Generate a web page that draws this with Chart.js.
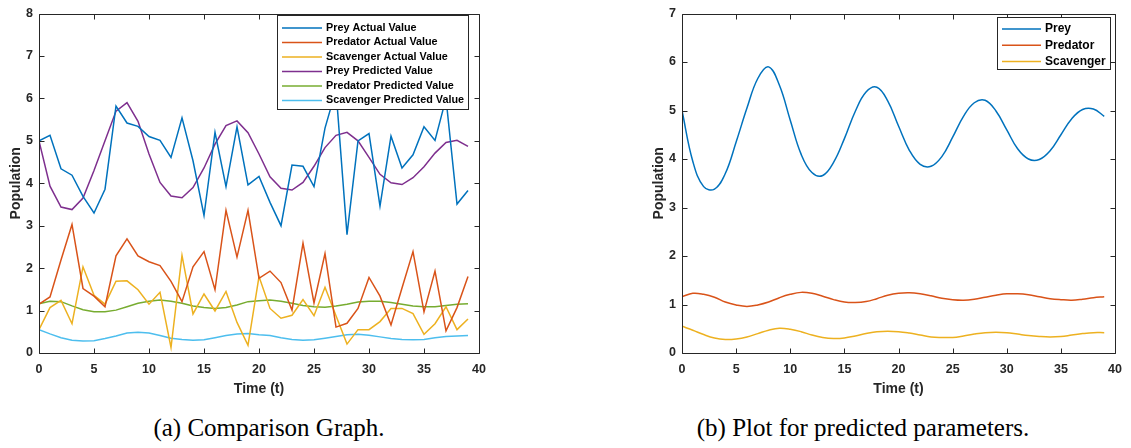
<!DOCTYPE html>
<html>
<head>
<meta charset="utf-8">
<script src="https://cdn.jsdelivr.net/npm/chart.js@4.4.1/dist/chart.umd.min.js"></script>
<style>
  html, body { margin: 0; padding: 0; background: #fff; width: 1131px; height: 448px; overflow: hidden; }
  #c1 { position: absolute; left: 0; top: 0; }
  #c2 { position: absolute; left: 565px; top: 0; }
  .cap { position: absolute; top: 414px; font-family: "Liberation Serif", "DejaVu Serif", serif; font-size: 25px; color: #000; white-space: nowrap; transform: translateX(-50%); }
</style>
</head>
<body>
<canvas id="c1" width="565" height="400"></canvas>
<canvas id="c2" width="566" height="400"></canvas>
<div class="cap" style="left:269px">(a) Comparison Graph.</div>
<div class="cap" style="left:863px">(b) Plot for predicted parameters.</div>
<script>
// ---- data ----
const timeSteps = [0,1,2,3,4,5,6,7,8,9,10,11,12,13,14,15,16,17,18,19,20,21,22,23,24,25,26,27,28,29,30,31,32,33,34,35,36,37,38,39];
const xTicks = [0,5,10,15,20,25,30,35,40];
const yTicksLeft = [0,1,2,3,4,5,6,7,8];
const yTicksRight = [0,1,2,3,4,5,6,7];

// (a) comparison graph
const preyActual = [5.00,5.13,4.34,4.19,3.69,3.30,3.86,5.82,5.42,5.34,5.10,5.01,4.61,5.54,4.53,3.24,5.20,3.92,5.33,3.96,4.16,3.55,3.00,4.43,4.40,3.92,5.30,6.20,2.79,5.00,5.17,3.46,5.11,4.36,4.67,5.33,5.01,6.00,3.51,3.83];
const predatorActual = [1.15,1.32,2.19,3.03,1.52,1.34,1.09,2.29,2.69,2.29,2.15,2.06,1.69,1.21,2.03,2.39,1.49,3.36,2.26,3.36,1.76,1.93,1.66,1.01,2.59,1.18,2.34,0.61,0.70,1.05,1.78,1.34,0.66,1.53,2.39,0.97,1.93,0.52,1.07,1.80];
const scavengerActual = [0.55,1.07,1.24,0.69,2.03,1.36,1.15,1.69,1.70,1.49,1.15,1.43,0.13,2.30,0.92,1.39,0.99,1.45,0.72,0.18,1.80,1.05,0.82,0.89,1.26,0.88,1.55,0.88,0.21,0.55,0.55,0.74,1.05,1.05,0.93,0.44,0.69,1.09,0.55,0.80];
const preyPredicted = [5.00,3.93,3.44,3.38,3.65,4.30,5.00,5.70,5.90,5.46,4.69,4.02,3.70,3.66,3.90,4.36,4.92,5.36,5.47,5.19,4.69,4.15,3.88,3.84,4.02,4.40,4.84,5.13,5.20,5.00,4.61,4.21,4.01,3.97,4.13,4.39,4.71,4.96,5.01,4.87];
const predatorPredicted = [1.16,1.22,1.21,1.11,1.02,0.97,0.97,1.01,1.09,1.17,1.22,1.25,1.22,1.17,1.11,1.07,1.05,1.07,1.13,1.21,1.23,1.25,1.22,1.17,1.12,1.09,1.08,1.11,1.15,1.20,1.22,1.22,1.19,1.15,1.11,1.09,1.09,1.12,1.15,1.16];
const scavengerPredicted = [0.55,0.45,0.36,0.30,0.28,0.29,0.34,0.40,0.47,0.49,0.47,0.41,0.35,0.32,0.30,0.31,0.36,0.41,0.45,0.46,0.43,0.41,0.36,0.32,0.30,0.31,0.35,0.39,0.43,0.44,0.42,0.38,0.34,0.32,0.31,0.32,0.36,0.39,0.40,0.41];

// (b) predicted parameters
const preyCurve = [5.00,3.95,3.43,3.38,3.70,4.35,5.05,5.66,5.90,5.52,4.80,4.10,3.72,3.66,3.93,4.42,4.98,5.38,5.48,5.20,4.68,4.18,3.89,3.85,4.05,4.45,4.88,5.16,5.21,4.99,4.60,4.21,4.00,3.99,4.17,4.50,4.83,5.02,5.03,4.88];
const predatorCurve = [1.16,1.23,1.21,1.15,1.05,0.99,0.96,0.99,1.05,1.14,1.21,1.25,1.23,1.17,1.10,1.05,1.04,1.06,1.12,1.19,1.23,1.24,1.22,1.18,1.13,1.10,1.09,1.11,1.15,1.19,1.22,1.22,1.20,1.16,1.12,1.10,1.09,1.11,1.14,1.16];
const scavengerCurve = [0.55,0.47,0.38,0.31,0.28,0.29,0.33,0.40,0.47,0.51,0.49,0.44,0.37,0.32,0.30,0.31,0.35,0.40,0.44,0.45,0.44,0.41,0.37,0.33,0.32,0.32,0.35,0.39,0.42,0.43,0.42,0.39,0.36,0.34,0.33,0.34,0.37,0.40,0.42,0.42];

const C = { blue:'#0072BD', orange:'#D95319', yellow:'#EDB120', purple:'#7E2F8E', green:'#77AC30', cyan:'#4DBEEE' };
const INK = '#262626';
const FONT = '"Liberation Sans", Arial, Helvetica, sans-serif';

function pts(arr) { return timeSteps.map((t, i) => ({ x: t, y: arr[i] })); }
function ds(label, arr, color, tension) {
  return { label, data: pts(arr), borderColor: color, backgroundColor: color, borderWidth: 1.5, pointRadius: 0, tension: tension, fill: false };
}

// frame with inward ticks (MATLAB-style box)
const framePlugin = {
  id: 'frame',
  afterDatasetsDraw(chart) {
    const { ctx, chartArea: a, scales } = chart;
    ctx.save();
    ctx.strokeStyle = INK; ctx.lineWidth = 1;
    const L = Math.round(a.left) + 0.5, R = Math.round(a.right) + 0.5, T = Math.round(a.top) + 0.5, B = Math.round(a.bottom) + 0.5;
    ctx.beginPath(); ctx.rect(L, T, R - L, B - T); ctx.stroke();
    const tl = 5;
    ctx.beginPath();
    scales.x.ticks.forEach(tk => {
      const px = Math.round(scales.x.getPixelForValue(tk.value)) + 0.5;
      ctx.moveTo(px, B); ctx.lineTo(px, B - tl);
      ctx.moveTo(px, T); ctx.lineTo(px, T + tl);
    });
    scales.y.ticks.forEach(tk => {
      const py = Math.round(scales.y.getPixelForValue(tk.value)) + 0.5;
      ctx.moveTo(L, py); ctx.lineTo(L + tl, py);
      ctx.moveTo(R, py); ctx.lineTo(R - tl, py);
    });
    ctx.stroke();
    ctx.restore();
  }
};

// boxed legend inside plot
const boxLegend = {
  id: 'boxLegend',
  afterDraw(chart, args, o) {
    const { ctx } = chart;
    ctx.save();
    ctx.fillStyle = '#fff';
    ctx.fillRect(o.x, o.y, o.w, o.h);
    ctx.strokeStyle = INK; ctx.lineWidth = 1;
    ctx.strokeRect(o.x + 0.5, o.y + 0.5, o.w, o.h);
    ctx.font = 'bold ' + o.fontSize + 'px ' + FONT;
    ctx.textBaseline = 'middle';
    chart.data.datasets.forEach((d, i) => {
      const y = o.y + o.firstRow + i * o.rowGap;
      ctx.strokeStyle = d.borderColor; ctx.lineWidth = 1.5;
      ctx.beginPath(); ctx.moveTo(o.x + o.lineX0, y); ctx.lineTo(o.x + o.lineX1, y); ctx.stroke();
      ctx.fillStyle = '#000';
      ctx.fillText(d.label, o.x + o.textX, y);
    });
    ctx.restore();
  }
};

function makeOptions(yMax, yTicks, pad, legend) {
  return {
    responsive: false,
    animation: false,
    devicePixelRatio: 1,
    layout: { padding: pad },
    plugins: { legend: { display: false }, tooltip: { enabled: false }, boxLegend: legend },
    scales: {
      x: {
        type: 'linear', min: 0, max: 40,
        afterBuildTicks: s => { s.ticks = xTicks.map(v => ({ value: v })); },
        afterFit: s => { s.height = 47; },
        grid: { display: false, drawTicks: false },
        border: { display: false },
        ticks: { color: INK, font: { family: FONT, size: 12.5, weight: 'bold' }, padding: 9, maxRotation: 0 },
        title: { display: true, text: 'Time (t)', color: INK, font: { family: FONT, size: 14, weight: 'bold' }, padding: { top: 0, bottom: 2 } }
      },
      y: {
        type: 'linear', min: 0, max: yMax,
        afterBuildTicks: s => { s.ticks = yTicks.map(v => ({ value: v })); },
        afterFit: s => { s.width = 39; },
        grid: { display: false, drawTicks: false },
        border: { display: false },
        ticks: { color: INK, font: { family: FONT, size: 12.5, weight: 'bold' }, padding: 6 },
        title: { display: true, text: 'Population', color: INK, font: { family: FONT, size: 14, weight: 'bold' }, padding: { top: 7.5, bottom: 0 } }
      }
    }
  };
}

new Chart(document.getElementById('c1'), {
  type: 'line',
  data: { datasets: [
    ds('Prey Actual Value', preyActual, C.blue, 0),
    ds('Predator Actual Value', predatorActual, C.orange, 0),
    ds('Scavenger Actual Value', scavengerActual, C.yellow, 0),
    ds('Prey Predicted Value', preyPredicted, C.purple, 0),
    ds('Predator Predicted Value', predatorPredicted, C.green, 0),
    ds('Scavenger Predicted Value', scavengerPredicted, C.cyan, 0)
  ]},
  options: makeOptions(8, yTicksLeft, { left: 0, top: 6, right: 86, bottom: 0 },
    { x: 277, y: 15, w: 191, h: 94, fontSize: 10.8, firstRow: 13, rowGap: 14.5, lineX0: 5, lineX1: 45, textX: 49 }),
  plugins: [framePlugin, boxLegend]
});

new Chart(document.getElementById('c2'), {
  type: 'line',
  data: { datasets: [
    ds('Prey', preyCurve, C.blue, 0.4),
    ds('Predator', predatorCurve, C.orange, 0.4),
    ds('Scavenger', scavengerCurve, C.yellow, 0.4)
  ]},
  options: makeOptions(7, yTicksRight, { left: 78, top: 6, right: 10, bottom: 0 },
    { x: 432, y: 17, w: 113, h: 52, fontSize: 12, firstRow: 12, rowGap: 16.3, lineX0: 5, lineX1: 44, textX: 48 }),
  plugins: [framePlugin, boxLegend]
});
</script>
</body>
</html>
